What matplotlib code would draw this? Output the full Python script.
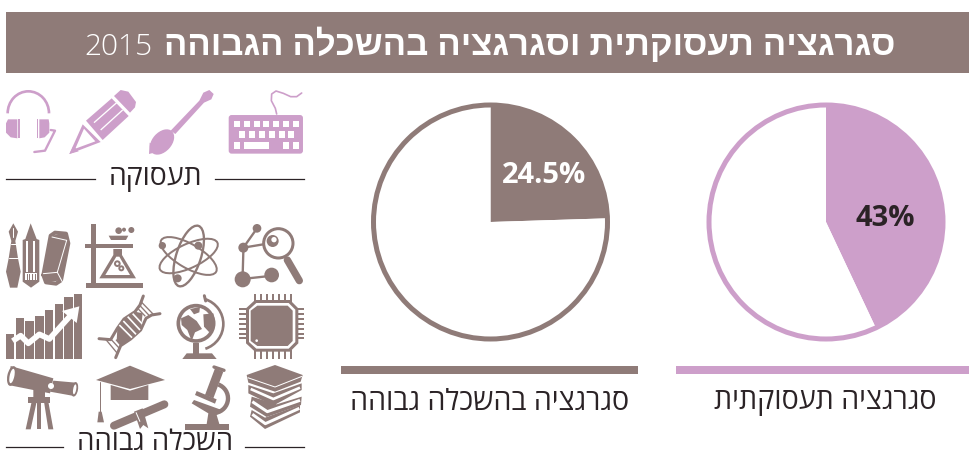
import matplotlib
matplotlib.use("Agg")
import matplotlib.pyplot as plt
from matplotlib.patches import Circle, Ellipse, FancyBboxPatch, Polygon, Rectangle, Arc
from matplotlib.transforms import Affine2D

BROWN = "#8f7b78"
PINK = "#cd9fca"
DARK = "#2b2326"

# Data
TITLE_HE = "סגרגציה תעסוקתית וסגרגציה בהשכלה הגבוהה"
TITLE_YEAR = "2015"
pie_labels = ["סגרגציה בהשכלה גבוהה", "סגרגציה תעסוקתית"]
pie_values = [24.5, 43]
pie_texts = ["24.5%", "43%"]
heading_work = "תעסוקה"
heading_edu = "השכלה גבוהה"

FONTS = ["Open Sans", "Liberation Sans", "DejaVu Sans"]
plt.rcParams["font.family"] = FONTS

W, H = 969, 457
fig = plt.figure(figsize=(W / 100, H / 100), dpi=100, facecolor="white")
ax = fig.add_axes([0, 0, 1, 1])
ax.set_xlim(0, W)
ax.set_ylim(H, 0)
ax.axis("off")


def he(s):
    # matplotlib does not do bidi, so Hebrew goes in visual order
    return s[::-1]


def px_axes(x0, y0, x1, y1):
    return fig.add_axes([x0 / W, 1 - y1 / H, (x1 - x0) / W, (y1 - y0) / H])


# ── Header ────────────────────────────────────────────────────────────────────
ax.add_patch(Rectangle((6, 12), 963, 61, color=BROWN, lw=0))
ax.text(895, 46, he(TITLE_HE), ha="right", va="center", color="white",
        fontsize=25, fontweight="bold")
ax.text(84, 47, TITLE_YEAR, ha="left", va="center", color="white", fontsize=21.5,
        fontweight="light")


# ── Pies ──────────────────────────────────────────────────────────────────────
def draw_pie(cx, value, colour, text, text_xy, text_colour, label, label_x, bar):
    r_px = 117
    half = 122
    pie_ax = px_axes(cx - half, 222 - half, cx + half, 222 + half)
    pie_ax.pie([value, 100 - value], colors=[colour, "white"], startangle=90,
               counterclock=False, radius=1.0, wedgeprops=dict(linewidth=0))
    pie_ax.add_patch(Circle((0, 0), 1.0, fill=False, ec=colour, lw=3.6))
    pie_ax.set_xlim(-half / r_px, half / r_px)
    pie_ax.set_ylim(-half / r_px, half / r_px)
    pie_ax.text((text_xy[0] - cx) / r_px, (222 - text_xy[1]) / r_px, text, ha="center",
                va="center", color=text_colour, fontsize=21, fontweight="bold")
    ax.add_patch(Rectangle((bar[0], 366), bar[1] - bar[0], 8, color=colour, lw=0))
    ax.text(label_x, 402, he(label), ha="center", va="center", color=DARK, fontsize=20.6)


draw_pie(490.5, pie_values[0], BROWN, pie_texts[0], (544, 176), "white", pie_labels[0], 489.5, (341, 638))
draw_pie(826, pie_values[1], PINK, pie_texts[1], (885, 219), DARK, pie_labels[1], 825, (676, 969))


# ── Icon helpers (coordinates are in the 3x zoom grid of each icon block) ─────
class Block:
    def __init__(self, y0, colour):
        self.tr = Affine2D().scale(1 / 3).translate(0, y0) + ax.transData
        self.c = colour

    def poly(self, pts, c=None, z=2):
        ax.add_patch(Polygon(pts, closed=True, fc=c or self.c, ec="none", transform=self.tr, zorder=z))

    def rect(self, x0, y0, x1, y1, c=None, z=2):
        self.poly([(x0, y0), (x1, y0), (x1, y1), (x0, y1)], c, z)

    def circ(self, x, y, r, c=None, z=2):
        ax.add_patch(Circle((x, y), r, fc=c or self.c, ec="none", transform=self.tr, zorder=z))

    def ring(self, x, y, r, w, c=None, z=2):
        ax.add_patch(Circle((x, y), r, fc="none", ec=c or self.c, lw=w * 0.24, transform=self.tr, zorder=z))

    def line(self, pts, w, c=None, z=2, cap="round"):
        xs, ys = zip(*pts)
        ax.plot(xs, ys, color=c or self.c, lw=w * 0.24, transform=self.tr, zorder=z,
                solid_capstyle=cap, solid_joinstyle="round")

    def ell(self, x, y, a, b, ang, w=None, c=None, z=2):
        if w is None:
            ax.add_patch(Ellipse((x, y), a, b, angle=ang, fc=c or self.c, ec="none", transform=self.tr, zorder=z))
        else:
            ax.add_patch(Ellipse((x, y), a, b, angle=ang, fc="none", ec=c or self.c, lw=w * 0.24,
                                 transform=self.tr, zorder=z))

    def arc(self, x, y, a, b, t1, t2, w, c=None, z=2):
        ax.add_patch(Arc((x, y), a, b, theta1=t1, theta2=t2, ec=c or self.c, lw=w * 0.24,
                         transform=self.tr, zorder=z))


# ── Work icons ────────────────────────────────────────────────────────────────
p = Block(80, PINK)

# keyboard
ax.add_patch(FancyBboxPatch((689, 108), 217, 110, boxstyle="round,pad=0,rounding_size=6",
                            fc=PINK, ec=PINK, lw=1.4, transform=p.tr, zorder=2))
for i in range(7):
    p.rect(702 + i * 29.5, 122, 720 + i * 29.5, 141, "white", 3)
for i in range(6):
    p.rect(718 + i * 29.5, 154, 736 + i * 29.5, 174, "white", 3)
p.rect(702, 186, 720, 206, "white", 3)
p.rect(732, 186, 808, 206, "white", 3)
p.rect(820, 174, 838, 206, PINK, 4)
p.rect(850, 186, 868, 206, "white", 3)
p.rect(880, 186, 898, 206, "white", 3)
p.line([(830, 102), (826, 85), (814, 62), (815, 42), (828, 33), (850, 40), (872, 50), (890, 50), (905, 39)], 5)

# spoon
p.ell(486, 186, 88, 58, -48)
p.poly([(447, 222), (449, 188), (486, 212)])
p.poly([(512, 152), (598, 62), (610, 38), (628, 30), (641, 42), (634, 58), (612, 68), (526, 162)])

# pencil
p.poly([(258, 122), (335, 55), (386, 108), (308, 180)])
p.line([(282, 128), (350, 68)], 4, "white", 3, "butt")
p.line([(302, 150), (368, 90)], 4, "white", 3, "butt")
p.poly([(342, 48), (362, 30), (385, 35), (408, 66), (405, 82), (390, 98)])
p.poly([(208, 222), (248, 133), (302, 186)])
p.poly([(226, 206), (252, 146), (286, 184)], "white", 3)
p.poly([(208, 222), (220, 198), (236, 214)], PINK, 4)

# headset
p.arc(85, 100, 124, 132, 180, 360, 8)
p.poly([(24, 118), (52, 118), (52, 175), (32, 172), (18, 158), (18, 130)])
p.rect(55, 118, 60, 175)
p.rect(110, 118, 115, 175)
p.poly([(146, 118), (118, 118), (118, 175), (134, 172), (148, 158), (148, 130)])
p.line([(152, 150), (165, 152), (135, 212), (103, 216)], 7)

ax.text(155, 178, he(heading_work), ha="center", va="center", color=DARK, fontsize=20.5)
ax.plot([6, 95], [179, 179], color=DARK, lw=0.9)
ax.plot([215, 304], [179, 179], color=DARK, lw=0.9)

# ── Higher-education icons ────────────────────────────────────────────────────
b = Block(215, BROWN)

# pen, pencil, eraser
b.poly([(40, 25), (54, 50), (46, 78), (54, 130), (62, 170), (52, 218), (30, 218), (18, 170), (26, 130), (34, 78), (26, 50)])
b.line([(40, 40), (40, 65)], 3, "white", 3)
b.line([(32, 88), (48, 88)], 3, "white", 3)
b.line([(27, 130), (53, 130)], 3, "white", 3)
b.poly([(92, 25), (110, 72), (118, 75), (118, 200), (93, 218), (68, 200), (68, 75), (76, 72)])
b.rect(78, 78, 84, 170, "white", 3)
b.rect(100, 78, 106, 170, "white", 3)
b.rect(74, 175, 112, 196, "white", 3)
for x in (80, 88, 96, 104):
    b.rect(x, 176, x + 3, 196, BROWN, 4)
b.line([(130, 180), (152, 62), (165, 53), (198, 56), (205, 85), (183, 196), (168, 206), (138, 202), (130, 180)], 12)
b.poly([(130, 180), (152, 62), (198, 56), (205, 85), (183, 196), (138, 202)])
b.line([(156, 66), (200, 76), (172, 172)], 3, "white", 3)
b.line([(130, 176), (172, 172), (190, 206)], 3, "white", 3)

# flask on a stand
b.rect(258, 205, 428, 220)
b.rect(272, 28, 287, 205)
b.rect(255, 87, 400, 98)
b.poly([(326, 62), (385, 62), (378, 75), (333, 75)])
b.circ(356, 47, 10)
b.circ(372, 44, 6)
b.circ(394, 45, 9)
b.poly([(340, 102), (366, 102), (366, 120), (408, 190), (298, 190), (340, 120)])
b.poly([(349, 125), (358, 125), (390, 180), (316, 180)], "white", 3)
b.circ(352, 146, 10, BROWN, 4)
b.circ(364, 160, 9, BROWN, 4)
b.circ(352, 146, 4, "white", 5)
b.circ(364, 160, 3, "white", 5)

# atom
b.ell(566, 123, 74, 190, 18, 7)
b.ell(566, 123, 190, 72, 30, 6)
b.ell(566, 123, 190, 72, -25, 6)
b.circ(487, 92, 11)
b.circ(595, 92, 12)
b.circ(533, 190, 12)

# magnifier and molecule
b.ring(835, 85, 44, 9)
b.circ(818, 78, 18)
b.circ(822, 74, 8, "white", 3)
b.line([(862, 135), (898, 197)], 22)
b.circ(730, 98, 15)
b.circ(771, 40, 13)
b.circ(728, 193, 24)
b.circ(815, 180, 22)
b.line([(730, 98), (771, 40)], 7)
b.line([(730, 98), (790, 88)], 7)
b.line([(730, 110), (728, 180)], 7)
b.line([(745, 190), (800, 184)], 7)

# rising bars with arrow
tops = [358, 308, 318, 302, 285, 268, 245, 238]
for i, t in enumerate(tops):
    b.rect(18 + i * 29.2, t, 43 + i * 29.2, 432)
b.line([(38, 378), (62, 362), (85, 385), (118, 358), (148, 372), (215, 298)], 17, "white", 3, "butt")
b.poly([(186, 288), (238, 274), (230, 324)], "white", 3)

# DNA
b.line([(297, 371), (332, 374), (352, 340), (372, 312), (405, 290), (420, 270), (430, 243)], 9)
b.line([(347, 428), (362, 392), (392, 372), (422, 345), (438, 310), (455, 300), (480, 296)], 9)
b.poly([(350, 378), (352, 340), (372, 312), (405, 290), (428, 295), (422, 345), (392, 372), (362, 392)])
for x0, y0, x1, y1 in [(358, 330, 396, 368), (370, 318, 408, 358), (383, 305, 420, 345), (398, 296, 426, 326)]:
    b.line([(x0, y0), (x1, y1)], 5, "white", 3, "butt")
for x0, y0, x1, y1 in [(318, 374, 352, 415), (334, 374, 358, 400), (348, 374, 362, 390),
                       (425, 262, 462, 300), (420, 272, 448, 302), (415, 282, 436, 304)]:
    b.line([(x0, y0), (x1, y1)], 4, BROWN, 2, "butt")

# globe
b.ring(588, 325, 53, 11)
b.poly([(543, 310), (565, 300), (590, 318), (606, 342), (585, 352), (575, 378), (562, 345), (545, 330)])
b.poly([(610, 298), (640, 295), (645, 328), (628, 352), (612, 335)])
b.poly([(570, 282), (600, 276), (598, 292), (582, 298)])
b.arc(592, 327, 156, 156, -72, 72, 8)
b.line([(613, 242), (617, 258)], 9)
b.rect(580, 385, 596, 416)
b.poly([(547, 432), (560, 415), (636, 415), (650, 432)])

# chip
for i in range(7):
    xp = 764 + i * 18
    b.rect(xp - 3, 238, xp + 3, 262)
    b.rect(xp - 3, 405, xp + 3, 431)
    yp = 283 + i * 14.5
    b.rect(718, yp - 3, 745, yp + 3)
    b.rect(885, yp - 3, 911, yp + 3)
b.poly([(765, 255), (870, 255), (895, 280), (895, 385), (870, 410), (765, 410), (738, 385), (738, 280)])
b.poly([(769, 264), (866, 264), (886, 284), (886, 381), (866, 401), (769, 401), (747, 381), (747, 284)], "white", 3)
b.poly([(772, 272), (863, 272), (878, 287), (878, 378), (863, 393), (772, 393), (752, 378), (752, 287)], BROWN, 4)
b.circ(770, 377, 4, "white", 5)

# telescope
b.poly([(32, 453), (160, 490), (150, 535), (25, 510)])
b.ell(36, 483, 28, 60, 12)
b.ell(36, 483, 14, 44, 12, None, "white", 3)
b.poly([(160, 497), (228, 503), (222, 543), (150, 530)])
b.ell(224, 523, 20, 44, 10)
b.ell(224, 523, 9, 30, 10, None, "white", 3)
b.rect(85, 545, 150, 563)
b.circ(153, 513, 9, "white", 3)
b.poly([(100, 520), (135, 530), (135, 548), (100, 548)])
b.poly([(95, 560), (110, 560), (92, 643), (77, 643)])
b.poly([(112, 560), (124, 560), (124, 643), (112, 643)])
b.poly([(132, 560), (145, 560), (160, 643), (145, 643)])

# graduation cap and diploma
b.poly([(288, 495), (390, 452), (495, 495), (390, 522)])
b.poly([(332, 510), (390, 527), (445, 510), (445, 555), (332, 555)])
b.line([(300, 502), (300, 595)], 3)
b.poly([(296, 590), (305, 590), (312, 622), (292, 622)])
b.line([(342, 632), (493, 568)], 24)
b.poly([(402, 590), (428, 580), (445, 640), (430, 630), (420, 642)])
b.line([(408, 592), (420, 620)], 3, "white", 3, "butt")

# microscope
b.rect(555, 627, 686, 645)
b.poly([(620, 627), (625, 595), (575, 565), (582, 555), (665, 585), (650, 600), (658, 627)])
b.arc(640, 550, 88, 88, -70, 80, 13)
b.poly([(615, 540), (645, 460), (670, 470), (640, 550)])
b.poly([(590, 528), (650, 553), (645, 566), (585, 540)])
b.line([(642, 456), (672, 466)], 10)

# books
b.poly([(745, 510), (820, 535), (905, 505), (905, 525), (820, 572), (745, 535)])
b.line([(752, 522), (820, 552), (900, 518)], 8, "white", 3, "butt")
b.poly([(755, 545), (830, 568), (905, 545), (903, 570), (800, 606), (750, 575)])
b.line([(757, 560), (802, 590), (900, 556)], 9, "white", 3, "butt")
b.poly([(755, 585), (795, 608), (900, 570), (900, 592), (795, 642), (750, 605)])
b.line([(757, 598), (796, 626), (898, 580)], 9, "white", 3, "butt")
b.poly([(740, 480), (825, 450), (908, 480), (902, 500), (825, 530), (745, 503)])
b.line([(743, 488), (825, 516), (906, 484)], 3, "white", 3, "butt")

ax.text(155, 443, he(heading_edu), ha="center", va="center", color=DARK, fontsize=20)
ax.plot([6, 63], [447, 447], color=DARK, lw=0.9)
ax.plot([245, 304], [447, 447], color=DARK, lw=0.9)

fig.savefig("out.png", dpi=100, facecolor="white")
